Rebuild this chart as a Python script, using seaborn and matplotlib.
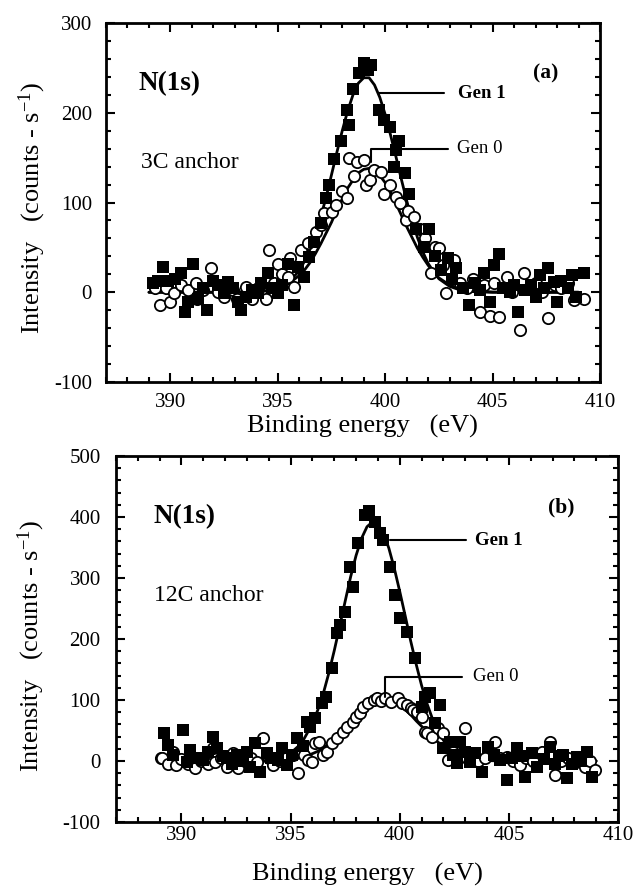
import matplotlib
matplotlib.use("Agg")
import matplotlib.pyplot as plt
import pandas as pd
import seaborn as sns
from matplotlib.ticker import MultipleLocator

# ---------------- data: N(1s) XPS spectra ----------------
# panel (a): 3C anchor
a_gen1_energy = [389.2, 389.4, 389.67, 389.9, 390.2, 390.47, 390.7, 390.8, 391.07, 391.3,
                 391.5, 391.7, 392.0, 392.2, 392.48, 392.66, 392.9, 393.13, 393.27, 393.5,
                 393.8, 394.07, 394.2, 394.53, 394.75, 395.0, 395.2, 395.47, 395.75, 395.93,
                 396.2, 396.45, 396.7, 397.0, 397.25, 397.4, 397.6, 397.95, 398.2, 398.3,
                 398.5, 398.8, 399.02, 399.2, 399.35, 399.7, 399.95, 400.2, 400.4, 400.5,
                 400.65, 400.9, 401.1, 401.45, 401.8, 402.06, 402.3, 402.6, 402.9, 403.1,
                 403.3, 403.6, 403.9, 404.2, 404.4, 404.6, 404.86, 405.05, 405.28, 405.5,
                 405.8, 406.0, 406.2, 406.5, 406.8, 407.0, 407.2, 407.4, 407.6, 407.85,
                 408.0, 408.2, 408.5, 408.7, 408.9, 409.25]
a_gen1_counts = [10, 13, 28, 12, 15, 21, -22, -11, 32, -7,
                 5, -20, 13, 8, -1, 11, 5, -11, -20, -5,
                 2, -1, 10, 21, 5, -1, 8, 32, -14, 28,
                 17, 39, 56, 77, 105, 120, 149, 169, 203, 186,
                 227, 244, 255, 248, 253, 203, 192, 184, 140, 158,
                 169, 133, 110, 71, 50, 71, 40, 25, 38, 15,
                 27, 5, -14, 10, 3, 22, -11, 30, 43, 5,
                 0, 8, -22, 3, 8, -5, 19, 5, 27, 11,
                 -11, 13, 5, 19, -5, 21]
a_gen0_energy = [389.3, 389.53, 389.8, 390.0, 390.15, 390.5, 390.8, 391.17, 391.26, 391.5,
                 391.87, 392.2, 392.5, 392.9, 393.1, 393.5, 393.8, 394.1, 394.44, 394.58,
                 394.8, 395.0, 395.2, 395.47, 395.55, 395.75, 396.1, 396.4, 396.8, 397.0,
                 397.15, 397.5, 397.7, 398.0, 398.2, 398.3, 398.55, 398.7, 399.0, 399.1,
                 399.3, 399.5, 399.8, 399.95, 400.2, 400.5, 400.7, 400.98, 401.07, 401.35,
                 401.6, 401.85, 402.15, 402.3, 402.5, 402.7, 402.85, 403.2, 403.5, 403.8,
                 404.1, 404.4, 404.6, 404.86, 405.05, 405.3, 405.65, 405.9, 406.26, 406.45,
                 406.7, 407.0, 407.3, 407.6, 407.9, 408.2, 408.5, 408.8, 409.25]
a_gen0_counts = [5, -14, 5, -11, -1, 8, 2, 10, -7, 3,
                 27, 0, -5, 2, -7, 6, -7, 5, -7, 47,
                 10, 32, 20, 17, 38, 6, 47, 55, 67, 75,
                 88, 89, 97, 113, 105, 150, 130, 145, 147, 119,
                 125, 136, 134, 110, 120, 106, 100, 80, 91, 84,
                 70, 60, 21, 50, 49, 30, -1, 36, 10, 5,
                 15, -22, 8, -26, 10, -28, 17, 0, -42, 22,
                 5, 10, 0, -29, 8, 5, 10, -9, -7]

# panel (b): 12C anchor
b_gen1_energy = [389.18, 389.4, 389.6, 390.05, 390.27, 390.4, 390.7, 391.0, 391.2, 391.46,
                 391.65, 391.9, 392.1, 392.3, 392.56, 392.8, 393.0, 393.16, 393.39, 393.6,
                 393.9, 394.1, 394.4, 394.6, 394.85, 395.05, 395.3, 395.55, 395.77, 395.9,
                 396.13, 396.45, 396.6, 396.9, 397.14, 397.28, 397.5, 397.73, 397.87, 398.1,
                 398.42, 398.6, 398.88, 399.1, 399.25, 399.57, 399.8, 400.0, 400.34, 400.7,
                 401.0, 401.17, 401.4, 401.6, 401.85, 402.0, 402.3, 402.45, 402.63, 402.77,
                 403.0, 403.2, 403.45, 403.78, 404.05, 404.3, 404.6, 404.92, 405.15, 405.38,
                 405.6, 405.74, 406.06, 406.3, 406.6, 406.9, 407.1, 407.3, 407.5, 407.65,
                 407.9, 408.1, 408.3, 408.6, 408.8]
b_gen1_counts = [46, 26, 10, 51, -2, 18, 5, 2, 15, 39,
                 21, 8, 5, -5, 10, 0, 15, -10, 30, -18,
                 13, 5, 2, 21, -7, 10, 38, 25, 64, 56,
                 70, 95, 105, 152, 210, 223, 244, 318, 285, 357,
                 403, 410, 392, 374, 362, 318, 272, 234, 211, 169,
                 89, 105, 111, 62, 92, 21, 31, 10, -3, 31,
                 15, -2, 13, -18, 23, 10, 2, -31, 5, 21,
                 8, -26, 13, -10, 3, 23, -5, 8, 10, -28,
                 -5, 7, 0, 15, -26]
b_gen0_energy = [389.04, 389.13, 389.4, 389.6, 389.73, 390.0, 390.3, 390.64, 390.9, 391.2,
                 391.46, 391.55, 391.8, 392.1, 392.38, 392.6, 392.9, 393.2, 393.48, 393.75,
                 394.0, 394.2, 394.5, 394.8, 395.1, 395.35, 395.45, 395.6, 395.8, 396.0,
                 396.13, 396.3, 396.5, 396.68, 396.9, 397.14, 397.4, 397.6, 397.87, 398.0,
                 398.2, 398.3, 398.55, 398.8, 398.95, 399.15, 399.34, 399.6, 399.9, 400.1,
                 400.34, 400.5, 400.6, 400.8, 401.0, 401.17, 401.25, 401.5, 401.76, 402.0,
                 402.2, 402.45, 402.7, 403.0, 403.3, 403.6, 403.9, 404.37, 404.6, 404.92,
                 405.2, 405.5, 405.8, 406.1, 406.5, 406.9, 407.1, 407.4, 407.7, 408.0,
                 408.2, 408.5, 408.7, 408.95]
b_gen0_counts = [5, 5, -5, 15, -7, 3, -5, -12, 0, -5,
                 21, -2, 5, -10, 13, -11, 0, 5, -2, 38,
                 5, -7, 0, 5, 10, -20, 15, 10, 2, -2,
                 30, 31, 10, 15, 30, 38, 48, 56, 64, 72,
                 79, 89, 95, 100, 103, 98, 103, 96, 103, 95,
                 92, 87, 84, 80, 72, 48, 46, 40, 54, 46,
                 2, 15, 5, 54, 8, 0, 5, 31, 5, 7,
                 0, -7, 5, 0, 15, 31, -23, 0, 5, -3,
                 5, -10, 0, -15]

# fitted peak envelopes, sampled on a common energy grid
fit_energy = [389, 391, 393, 394, 394.5, 395, 395.5, 396, 396.25, 396.5,
              396.75, 397, 397.25, 397.5, 397.75, 398, 398.25, 398.5, 398.75, 399,
              399.25, 399.5, 399.75, 400, 400.25, 400.5, 400.75, 401, 401.25, 401.5,
              401.75, 402, 402.25, 402.5, 403, 403.5, 404, 405, 407, 409]
a_gen1_fit = [0, 0, 0, 0.5, 1.6, 4.4, 11, 24, 35, 48,
              65, 84, 106, 131, 156, 180, 202, 220, 233, 239,
              239, 231, 217, 198, 175, 151, 126, 102, 80, 61,
              45, 32, 23, 15, 6.5, 2.4, 0.8, 0, 0, 0]
a_gen0_fit = [0, 0, 0, 0.7, 1.8, 4.4, 9.5, 18.7, 25, 33,
              43, 54, 66, 78, 92, 104, 116, 125, 133, 137,
              138, 136, 130, 122, 111, 99, 86, 73, 61, 49,
              39, 30, 22, 16, 8, 3.7, 1.5, 0.2, 0, 0]
b_gen1_fit = [0, 0, 0, 1.6, 4.8, 12.7, 29, 61, 84, 111,
              144, 181, 221, 262, 302, 337, 365, 384, 392, 388,
              374, 349, 316, 278, 238, 197, 159, 124, 94, 69,
              49, 34, 23, 15, 5.9, 2, 0.6, 0, 0, 0]
b_gen0_fit = [0, 0, 0, 0.4, 1.1, 2.7, 6, 12, 16, 22,
              28, 36, 44, 53, 63, 72, 81, 88, 94, 98,
              100, 99, 96, 91, 84, 76, 66, 57, 48, 39,
              31, 24, 18, 14, 7, 3, 1.3, 0, 0, 0]

panel_tags = ["(a)", "(b)"]
anchor_names = ["3C anchor", "12C anchor"]
series_names = ["Gen 1", "Gen 0"]

# ---------------- styling ----------------
sns.set_theme(style="ticks")
plt.rcParams["font.family"] = ["Liberation Serif", "DejaVu Serif"]
plt.rcParams["mathtext.fontset"] = "custom"
plt.rcParams["mathtext.rm"] = "Liberation Serif"
plt.rcParams["mathtext.it"] = "Liberation Serif:italic"
plt.rcParams["mathtext.bf"] = "Liberation Serif:bold"
plt.rcParams["mathtext.default"] = "rm"
plt.rcParams["axes.unicode_minus"] = False
for key in ["text.color", "axes.labelcolor", "xtick.color", "ytick.color",
            "xtick.labelcolor", "ytick.labelcolor", "axes.edgecolor"]:
    plt.rcParams[key] = "black"

fig = plt.figure(figsize=(6.37, 8.86), dpi=100)

layouts = [
    dict(rect=[106 / 637, 1 - 382 / 886, 494 / 637, 359 / 886], ylim=(-100, 300),
         xpad=8, ypad=10, xlabel_xy=(0.52, -0.093), ylabel_xy=(-0.118, 0.485),
         nls=(388.5, 233), anchor=(388.65, 145), tag=(406.9, 244),
         g1=(399.72, 402.76, 222, 403.4), g0=(399.35, 145, 160, 402.94, 403.35)),
    dict(rect=[116 / 637, 1 - 822 / 886, 502 / 637, 366 / 886], ylim=(-100, 500),
         xpad=3, ypad=11, xlabel_xy=(0.5, -0.113), ylabel_xy=(-0.137, 0.48),
         nls=(388.72, 400), anchor=(388.72, 272), tag=(406.8, 415),
         g1=(399.57, 403.04, 362, 403.45), g0=(399.34, 105, 138, 402.86, 403.36)),
]

panels = [
    (a_gen1_energy, a_gen1_counts, a_gen0_energy, a_gen0_counts, a_gen1_fit, a_gen0_fit),
    (b_gen1_energy, b_gen1_counts, b_gen0_energy, b_gen0_counts, b_gen1_fit, b_gen0_fit),
]

for i, (lay, (e1, c1, e0, c0, f1, f0)) in enumerate(zip(layouts, panels)):
    ax = fig.add_axes(lay["rect"])
    gen1 = pd.DataFrame({"energy": e1, "counts": c1})
    gen0 = pd.DataFrame({"energy": e0, "counts": c0})
    fits = pd.DataFrame({"energy": fit_energy, "gen1": f1, "gen0": f0})

    # fitted envelopes sit underneath the measured points
    sns.lineplot(data=fits, x="energy", y="gen1", color="black", lw=2.0,
                 estimator=None, sort=False, zorder=1.5, ax=ax)
    sns.lineplot(data=fits, x="energy", y="gen0", color="black", lw=2.0,
                 estimator=None, sort=False, zorder=1.5, ax=ax)
    sns.scatterplot(data=gen0, x="energy", y="counts", marker="o", s=66,
                    color="white", edgecolor="black", linewidth=1.3, zorder=2, ax=ax)
    sns.scatterplot(data=gen1, x="energy", y="counts", marker="s", s=72,
                    color="black", linewidth=0, zorder=3, ax=ax)

    ax.set_xlim(387, 410)
    ax.set_ylim(*lay["ylim"])
    ax.xaxis.set_major_locator(MultipleLocator(5))
    ax.xaxis.set_minor_locator(MultipleLocator(1))
    ax.yaxis.set_major_locator(MultipleLocator(100))
    ax.yaxis.set_minor_locator(MultipleLocator(20))
    for sp in ax.spines.values():
        sp.set_visible(True)
        sp.set_linewidth(2.0)
        sp.set_color("black")
    ax.tick_params(which="both", direction="in", top=True, right=True,
                   color="black", labelcolor="black", width=1.5)
    ax.tick_params(which="major", length=6.5)
    ax.tick_params(which="minor", length=3.6)
    ax.tick_params(axis="x", which="major", labelsize=15, pad=lay["xpad"])
    ax.tick_params(axis="y", which="major", labelsize=15, pad=lay["ypad"])

    ax.set_xlabel("Binding energy   (eV)", fontsize=19, color="black")
    ax.set_ylabel(r"Intensity   (counts - s$^{-1}$)", fontsize=19, color="black")
    ax.xaxis.set_label_coords(*lay["xlabel_xy"])
    ax.yaxis.set_label_coords(*lay["ylabel_xy"])

    # annotations
    ax.text(*lay["nls"], "N(1s)", fontsize=19.5, fontweight="bold", va="center", ha="left")
    ax.text(*lay["anchor"], anchor_names[i], fontsize=17, va="center", ha="left")
    ax.text(*lay["tag"], panel_tags[i], fontsize=15.5, fontweight="bold", va="center", ha="left")

    x0, x1, yg, xt = lay["g1"]
    ax.plot([x0, x1], [yg, yg], color="black", lw=1.5, zorder=5)
    ax.text(xt, yg, series_names[0], fontsize=13.5, fontweight="bold", va="center", ha="left")

    xv, ylo, yhi, xe, xt0 = lay["g0"]
    ax.plot([xv, xv, xe], [ylo, yhi, yhi], color="black", lw=1.5, zorder=5)
    ax.text(xt0, yhi, series_names[1], fontsize=13.5, va="center", ha="left")

fig.savefig("out.png", dpi=100, facecolor="white")
